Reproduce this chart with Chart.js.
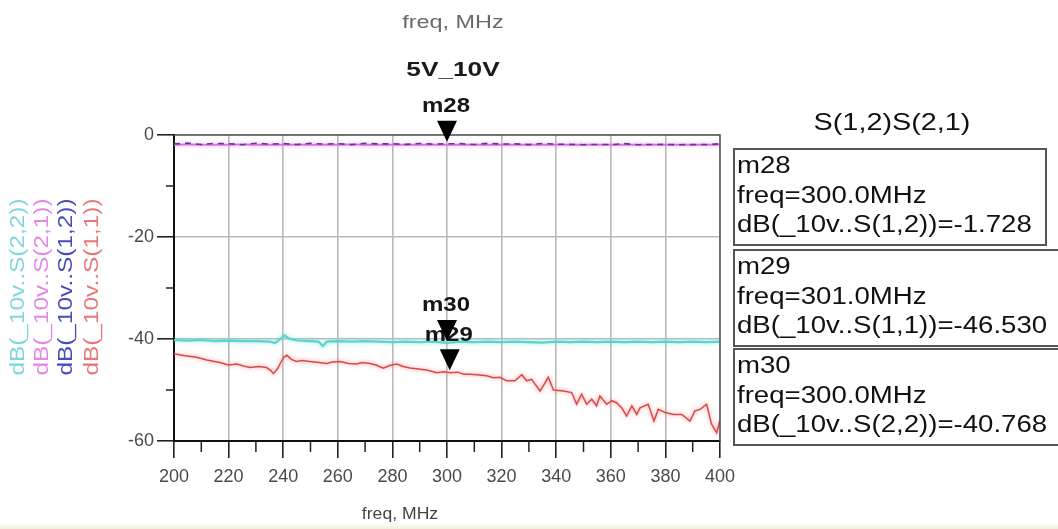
<!DOCTYPE html>
<html>
<head>
<meta charset="utf-8">
<script src="https://cdn.jsdelivr.net/npm/chart.js@4.4.1/dist/chart.umd.min.js"></script>
<style>
  html,body{margin:0;padding:0;background:#fff;}
  #wrap{width:1058px;height:529px;position:relative;}
</style>
</head>
<body>
<div id="wrap"><canvas id="c" width="1058" height="529"></canvas></div>
<script>
// ---- data ----
const xTickValues = [200,220,240,260,280,300,320,340,360,380,400];
const yTickValues = [-60,-40,-20,0];

const s11Freq = [200,204,208.3,212,216.8,219.9,223,225.5,227.8,231,233.9,235.5,236.4,238,238.8,240.2,241.3,243,244.9,247,249.8,253,255.9,258,260.8,264,266.9,269,271.8,274,276.7,279,281.6,284,286.4,289.5,292.6,296.2,299,301.1,304,306,308.4,311,314.5,317,319.4,321.9,324.9,327.4,329.2,331,334.1,337.1,339,342.6,345.7,347.5,349.3,351.2,353,354.8,356,358.5,360.3,362.1,364,365.8,367.7,369.5,370.7,373.7,375.8,377.4,379.9,383,386,389,390.8,392.7,395.1,396.9,398.8,400];
const s11Db   = [-42.9,-43.3,-43.6,-44.1,-44.6,-45.1,-44.9,-45.3,-45.6,-45.4,-45.6,-46.2,-46.8,-45.8,-44.9,-43.6,-43.2,-44.0,-44.4,-44.2,-44.4,-44.6,-44.8,-44.5,-44.4,-44.8,-44.9,-44.6,-44.8,-45.1,-45.7,-45.2,-44.9,-45.4,-45.7,-45.9,-46.1,-46.6,-46.4,-46.6,-46.5,-46.9,-46.9,-47.0,-47.2,-47.6,-47.5,-48.2,-48.2,-47.0,-48.2,-47.9,-50.2,-47.5,-50.0,-50.2,-50.5,-52.8,-50.8,-52.8,-51.8,-53.1,-51.2,-52.8,-52.1,-52.5,-53.5,-55.1,-53.1,-54.8,-53.5,-52.8,-56.1,-53.8,-54.4,-54.8,-54.8,-56.1,-54.1,-53.8,-52.8,-56.7,-58.4,-55.8];

const s22Freq = [200,205,210,215,220,225,230,235,237,239,240.5,242,245,250,253,254.5,256,260,265,270,275,280,285,290,295,300,305,310,315,320,325,330,335,340,345,350,355,360,365,370,375,380,385,390,395,400];
const s22Db   = [-40.2,-40.3,-40.2,-40.4,-40.3,-40.4,-40.4,-40.5,-40.8,-40.0,-39.3,-39.9,-40.3,-40.4,-40.5,-41.4,-40.5,-40.4,-40.5,-40.4,-40.5,-40.6,-40.5,-40.6,-40.5,-40.77,-40.5,-40.6,-40.5,-40.6,-40.5,-40.6,-40.7,-40.5,-40.6,-40.5,-40.6,-40.5,-40.6,-40.5,-40.6,-40.5,-40.6,-40.5,-40.6,-40.5];

const s2xFreq = [200,205,210,215,220,225,230,235,240,245,250,255,260,265,270,275,280,285,290,295,300,305,310,315,320,325,330,335,340,345,350,355,360,365,370,375,380,385,390,395,400];
const s21Db   = [-1.90,-1.88,-1.90,-1.92,-1.90,-1.88,-1.90,-1.91,-1.90,-1.89,-1.90,-1.92,-1.90,-1.88,-1.90,-1.91,-1.90,-1.89,-1.90,-1.90,-1.89,-1.90,-1.91,-1.90,-1.89,-1.90,-1.91,-1.90,-1.90,-1.89,-1.90,-1.91,-1.90,-1.90,-1.89,-1.90,-1.91,-1.90,-1.90,-1.89,-1.90];
const s12Db   = [-1.75,-1.60,-1.85,-1.65,-1.70,-1.90,-1.62,-1.80,-1.68,-1.86,-1.64,-1.78,-1.70,-1.88,-1.62,-1.76,-1.72,-1.84,-1.66,-1.80,-1.728,-1.70,-1.86,-1.64,-1.78,-1.74,-1.88,-1.66,-1.80,-1.84,-1.90,-1.86,-1.88,-1.70,-1.90,-1.86,-1.84,-1.90,-1.88,-1.86,-1.72];

const legendNames  = ['dB(_10v..S(2,2))','dB(_10v..S(2,1))','dB(_10v..S(1,2))','dB(_10v..S(1,1))'];
const legendColors = ['#7fd6dc','#e488e6','#4a4ab8','#e87878'];

const markerNames = ['m28','m29','m30'];
const markerFreq  = [300.0, 301.0, 300.0];
const markerDb    = [-1.728, -46.530, -40.768];
const markerText  = [
  ['m28','freq=300.0MHz','dB(_10v..S(1,2))=-1.728'],
  ['m29','freq=301.0MHz','dB(_10v..S(1,1))=-46.530'],
  ['m30','freq=300.0MHz','dB(_10v..S(2,2))=-40.768']
];

const xy = (xs, ys) => xs.map((x,i)=>({x:x, y:ys[i]}));

function drawT(ctx, txt, x, y, o){
  ctx.save();
  ctx.font = (o.weight||'normal') + ' ' + o.size + 'px ' + (o.family||'"Liberation Sans", Arial, sans-serif');
  ctx.fillStyle = o.color||'#000';
  ctx.textBaseline = 'middle';
  ctx.textAlign = o.align||'left';
  ctx.translate(x,y);
  if (o.rot) ctx.rotate(o.rot);
  ctx.scale(o.sx||1, 1);
  ctx.fillText(txt, 0, 0);
  ctx.restore();
}

const glow = {
  id:'glow',
  beforeDatasetDraw(chart, args){
    const ds = chart.data.datasets[args.index];
    chart.ctx.save();
    chart.ctx.shadowColor = ds.glowColor || 'rgba(0,0,0,0)';
    chart.ctx.shadowBlur = 4;
  },
  afterDatasetDraw(chart){ chart.ctx.restore(); }
};

const deco = {
  id:'deco',
  beforeDraw(chart){
    const ctx = chart.ctx;
    ctx.save();
    ctx.fillStyle = '#fff';
    ctx.fillRect(0,0,chart.width,chart.height);
    const g = ctx.createLinearGradient(0,521,0,529);
    g.addColorStop(0,'rgba(250,246,230,0)');
    g.addColorStop(1,'#f3eed8');
    ctx.fillStyle = g;
    ctx.fillRect(0,521,chart.width,8);
    ctx.restore();
  },
  afterDraw(chart){
    const ctx = chart.ctx, a = chart.chartArea;
    const xs = chart.scales.x, ys = chart.scales.y;
    ctx.save();
    ctx.strokeStyle = '#555'; ctx.lineWidth = 1.5;
    ctx.beginPath();
    ctx.moveTo(a.left, a.top); ctx.lineTo(a.right, a.top); ctx.lineTo(a.right, a.bottom);
    ctx.stroke();
    ctx.strokeStyle = '#222'; ctx.lineWidth = 1.5;
    ctx.beginPath();
    xs.ticks.forEach(t=>{ if (t.value % 20 !== 0){ const p = xs.getPixelForValue(t.value); ctx.moveTo(p, a.bottom); ctx.lineTo(p, a.bottom+11);} });
    ys.ticks.forEach(t=>{ if (t.value % 20 !== 0){ const p = ys.getPixelForValue(t.value); ctx.moveTo(a.left-8, p); ctx.lineTo(a.left, p);} });
    ctx.stroke();
    markerNames.forEach((n,i)=>{
      const px = xs.getPixelForValue(markerFreq[i]);
      const py = ys.getPixelForValue(markerDb[i]);
      ctx.fillStyle = '#000';
      ctx.beginPath();
      ctx.moveTo(px, py-2); ctx.lineTo(px-10, py-23); ctx.lineTo(px+10, py-23); ctx.closePath();
      ctx.fill();
      drawT(ctx, n, px-1, py-37, {size:20, weight:'bold', color:'#151515', align:'center', sx:1.2});
    });
    ctx.restore();
    drawT(ctx, 'freq, MHz', 453, 23, {size:18, color:'#6a6a6a', align:'center', sx:1.3});
    drawT(ctx, '5V_10V', 453, 70, {size:21, weight:'bold', color:'#1a1a1a', align:'center', sx:1.25});
    drawT(ctx, 'freq, MHz', 400, 515, {size:16, color:'#444', align:'center', sx:1.1});
    const cx = [18, 42, 66, 92];
    legendNames.forEach((s,i)=>{
      drawT(ctx, s, cx[i], 287, {size:20, color:legendColors[i], align:'center', sx:1.22, rot:-Math.PI/2});
    });
    drawT(ctx, 'S(1,2)S(2,1)', 892, 123, {size:24, color:'#111', align:'center', sx:1.2});
    const boxTop = [149, 250, 349], boxH = [96, 96, 96], boxR = [1046, 1062, 1062];
    markerText.forEach((lines,i)=>{
      ctx.save();
      ctx.strokeStyle = '#555'; ctx.lineWidth = 2;
      ctx.strokeRect(734, boxTop[i], boxR[i]-734, boxH[i]);
      ctx.restore();
      lines.forEach((l,j)=>{
        drawT(ctx, l, 737, boxTop[i]+18+j*29.5, {size:23, color:'#111', sx:1.2});
      });
    });
  }
};

new Chart(document.getElementById('c'), {
  type:'line',
  data:{
    datasets:[
      {label:legendNames[2], data:xy(s2xFreq, s12Db), borderColor:'#5a3a9e', borderWidth:1.6, borderDash:[6,5]},
      {label:legendNames[1], data:xy(s2xFreq, s21Db), borderColor:'#e070e2', borderWidth:2, glowColor:'rgba(240,150,240,0.7)'},
      {label:legendNames[3], data:xy(s11Freq, s11Db), borderColor:'#d84a4a', borderWidth:1.5, glowColor:'rgba(245,130,130,0.9)'},
      {label:legendNames[0], data:xy(s22Freq, s22Db), borderColor:'#5ad4cc', borderWidth:2.2, glowColor:'rgba(120,225,220,0.9)'}
    ]
  },
  options:{
    responsive:false,
    animation:false,
    elements:{point:{radius:0}, line:{tension:0}},
    layout:{padding:{left:0, top:135, right:338, bottom:0}},
    plugins:{legend:{display:false}, title:{display:false}, tooltip:{enabled:false}},
    scales:{
      x:{
        type:'linear', min:200, max:400,
        afterFit(s){ s.height = 88; },
        afterBuildTicks(s){ s.ticks = [200,210,220,230,240,250,260,270,280,290,300,310,320,330,340,350,360,370,380,390,400].map(v=>({value:v})); },
        ticks:{
          autoSkip:false, maxRotation:0, padding:8, color:'#4a4a4a',
          font:{family:'"Liberation Sans", Arial, sans-serif', size:18},
          callback:(v)=> xTickValues.includes(v) ? String(v) : ''
        },
        grid:{
          color:(c)=> (c.tick && c.tick.value % 20 === 0) ? '#b9b9b9' : 'rgba(0,0,0,0)',
          lineWidth:1.6,
          tickLength:17,
          tickColor:(c)=> (c.tick && c.tick.value % 20 === 0) ? '#222' : 'rgba(0,0,0,0)',
          tickWidth:1.6
        },
        border:{color:'#111', width:2}
      },
      y:{
        type:'linear', min:-60, max:0,
        afterFit(s){ s.width = 174; },
        afterBuildTicks(s){ s.ticks = [-60,-50,-40,-30,-20,-10,0].map(v=>({value:v})); },
        ticks:{
          autoSkip:false, padding:3, color:'#4a4a4a',
          font:{family:'"Liberation Sans", Arial, sans-serif', size:18},
          callback:(v)=> yTickValues.includes(v) ? String(v) : ''
        },
        grid:{
          color:(c)=> (c.tick && c.tick.value % 20 === 0) ? '#b9b9b9' : 'rgba(0,0,0,0)',
          lineWidth:1.6,
          tickLength:17,
          tickColor:(c)=> (c.tick && c.tick.value % 20 === 0) ? '#222' : 'rgba(0,0,0,0)',
          tickWidth:1.6
        },
        border:{color:'#111', width:2}
      }
    }
  },
  plugins:[glow, deco]
});
</script>
</body>
</html>
